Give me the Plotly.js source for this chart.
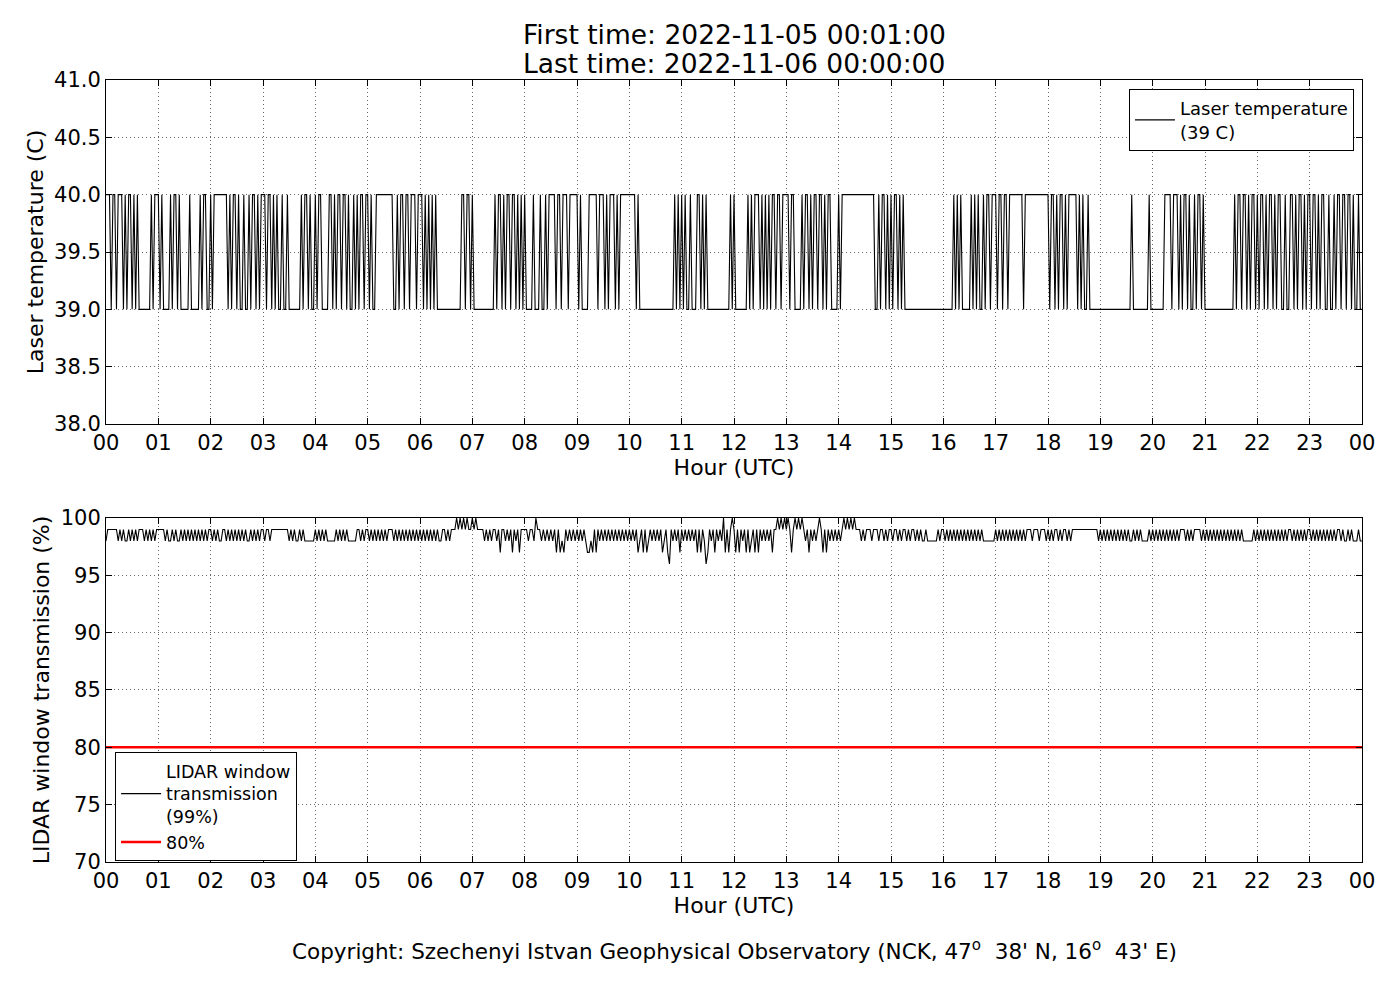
<!DOCTYPE html>
<html>
<head>
<meta charset="utf-8">
<script src="https://cdn.plot.ly/plotly-3.0.1.min.js"></script>
<style>
  body { margin: 0; background: #fff; }
  #chart { width: 1400px; height: 1000px; }
</style>
</head>
<body>
<div id="chart"></div>
<script>
// hour axis
const hourTicks = [0,1,2,3,4,5,6,7,8,9,10,11,12,13,14,15,16,17,18,19,20,21,22,23,24];
const hourLabels = ['00','01','02','03','04','05','06','07','08','09','10','11',
                    '12','13','14','15','16','17','18','19','20','21','22','23','00'];

// laser temperature, one string per hour, 2-minute samples
// '1' = 40 C, '0' = 39 C
const laserHours = [
  "111011011101011010100000001011",
  "101000010110100000100000101100",
  "101111111101011010010010110101",
  "110110101001001000000010110100",
  "101100001101011011010010101101",
  "101001111111111001011011011101",
  "110101010100000000000000110110",
  "100000000000010110101101101010",
  "100001000100101111011011101111",
  "101000011111011101011101011111",
  "111101000000000000000000001010",
  "101001000110101000000000000010",
  "100000001010111010101011011011",
  "110110000101101011011010110000",
  "101111111111111111111001011010",
  "101101010000000000000000000000",
  "000000101010000010101001011011",
  "101101101111111101111111111111",
  "101101011010111110101001000000",
  "000000000000000000100000000010",
  "000000011110111010110100101101",
  "000000000000000001011011010110",
  "101101011010110010011010110101",
  "101101011001001011011011010010"
];
const laserCodes = { "0": 39, "1": 40 };
const laserLast = 39;

// window transmission (%), same sampling
// '9' = 99, '8' = 98, '7' = 97, '6' = 96, '0' = 100
const windowHours = [
  "899999989898898989899989898989",
  "999989889898898989898989898989",
  "989898899898989898989889898989",
  "989989999999999898988989888888",
  "989898988888989898988888998989",
  "989898989898999898989898989898",
  "989898989898899898999090909099",
  "090999989898998979989897989799",
  "9989980998989898979787989898",
  "989898778797989898989898989898",
  "989897897978989898978976989897",
  "989898989797986798979898079790",
  "979798979789797989898979909090",
  "909790909098979898909797989898",
  "989090909099989899989998998989",
  "989989899898998989889888888989",
  "989898989898989898989898888888",
  "989898989898989898999899989998",
  "989899898998989999999999999998",
  "989898989898989898898989888898",
  "989898989898989899989898999989",
  "898989898989898989898988888898",
  "989898989898989898998989898989",
  "989898989898989899898898988898"
];
const windowCodes = { "0": 100, "9": 99, "8": 98, "7": 97, "6": 96 };
const windowLast = 98;

const limitX = [0, 24];
const limitY = [80, 80];

const decodeHours = (rows, codes, last) => {
    let xs = [];
    let ys = [];
    rows.forEach((row, h) => {
        for (let i = 0; i < row.length; i++) {
            xs.push(h + i / row.length);
            ys.push(codes[row[i]]);
        }
    });
    xs.push(rows.length);
    ys.push(last);
    return [xs, ys];
}

const [laserX, laserY] = decodeHours(laserHours, laserCodes, laserLast);
const [windowX, windowY] = decodeHours(windowHours, windowCodes, windowLast);

const fontFamily = "DejaVu Sans, sans-serif";
const gridColor = 'rgba(0,0,0,0.6)';
const gridDash = '1px,3px';

const xAxisStyle = (anchor) => {
    return {
        anchor: anchor,
        domain: [0, 1],
        range: [0, 24],
        tickmode: 'array',
        tickvals: hourTicks,
        ticktext: hourLabels,
        ticks: 'inside',
        ticklen: 6,
        tickcolor: '#000',
        showline: true,
        linecolor: '#000',
        linewidth: 1,
        mirror: 'ticks',
        showgrid: true,
        gridcolor: gridColor,
        griddash: gridDash,
        gridwidth: 1,
        zeroline: false,
        tickfont: { size: 21, color: '#000' },
        title: { text: 'Hour (UTC)', font: { size: 22, color: '#000' }, standoff: 4 }
    }
}

const yAxisStyle = (anchor, domain, range, dtick, fmt, titleText) => {
    return {
        anchor: anchor,
        domain: domain,
        range: range,
        tick0: range[0],
        dtick: dtick,
        tickformat: fmt,
        ticks: 'inside',
        ticklen: 6,
        tickcolor: '#000',
        showline: true,
        linecolor: '#000',
        linewidth: 1,
        mirror: 'ticks',
        showgrid: true,
        gridcolor: gridColor,
        griddash: gridDash,
        gridwidth: 1,
        zeroline: false,
        tickfont: { size: 21, color: '#000' },
        title: { text: titleText, font: { size: 22, color: '#000' }, standoff: 4 }
    }
}

const traces = [
    {
        x: laserX, y: laserY,
        xaxis: 'x', yaxis: 'y',
        type: 'scatter', mode: 'lines',
        name: 'Laser temperature<br>(39 C)',
        line: { color: '#000', width: 1.1 },
        legend: 'legend'
    },
    {
        x: windowX, y: windowY,
        xaxis: 'x2', yaxis: 'y2',
        type: 'scatter', mode: 'lines',
        name: 'LIDAR window<br>transmission<br>(99%)',
        line: { color: '#000', width: 1.1 },
        legend: 'legend2'
    },
    {
        x: limitX, y: limitY,
        xaxis: 'x2', yaxis: 'y2',
        type: 'scatter', mode: 'lines',
        name: '80%',
        line: { color: '#ff0000', width: 2.5 },
        legend: 'legend2'
    }
];

// paper coordinates run over the plot area: x 106..1362 px, y 862..80 px
const layout = {
    width: 1400,
    height: 1000,
    margin: { l: 106, r: 38, t: 80, b: 138 },
    paper_bgcolor: '#fff',
    plot_bgcolor: '#fff',
    font: { family: fontFamily, color: '#000' },
    showlegend: true,
    xaxis: xAxisStyle('y'),
    yaxis: yAxisStyle('x', [0.5601, 1], [38, 41], 0.5, '.1f', 'Laser temperature (C)'),
    xaxis2: xAxisStyle('y2'),
    yaxis2: yAxisStyle('x2', [0, 0.4399], [70, 100], 5, 'd', 'LIDAR window transmission (%)'),
    legend: {
        x: 0.9936, xanchor: 'right',
        y: 0.9885, yanchor: 'top',
        bgcolor: '#fff', bordercolor: '#000', borderwidth: 1,
        font: { size: 18, color: '#000' },
        itemwidth: 40,
        tracegroupgap: 0
    },
    legend2: {
        x: 0.0072, xanchor: 'left',
        y: 0.1407, yanchor: 'top',
        bgcolor: '#fff', bordercolor: '#000', borderwidth: 1,
        font: { size: 17.5, color: '#000' },
        itemwidth: 40,
        tracegroupgap: 0
    },
    annotations: [
        {
            text: 'First time: 2022-11-05 00:01:00',
            xref: 'paper', yref: 'paper', x: 0.5, y: 1.0588,
            xanchor: 'center', yanchor: 'middle', showarrow: false,
            font: { size: 26.5, color: '#000' }
        },
        {
            text: 'Last time: 2022-11-06 00:00:00',
            xref: 'paper', yref: 'paper', x: 0.5, y: 1.0217,
            xanchor: 'center', yanchor: 'middle', showarrow: false,
            font: { size: 26.5, color: '#000' }
        },
        {
            text: "Copyright: Szechenyi Istvan Geophysical Observatory (NCK, 47<sup>o</sup>  38' N, 16<sup>o</sup>  43' E)",
            xref: 'paper', yref: 'paper', x: 0.5, y: -0.1125,
            xanchor: 'center', yanchor: 'middle', showarrow: false,
            font: { size: 21.5, color: '#000' }
        }
    ]
};

const config = { responsive: false, displayModeBar: false };

Plotly.newPlot('chart', traces, layout, config);
</script>
</body>
</html>
